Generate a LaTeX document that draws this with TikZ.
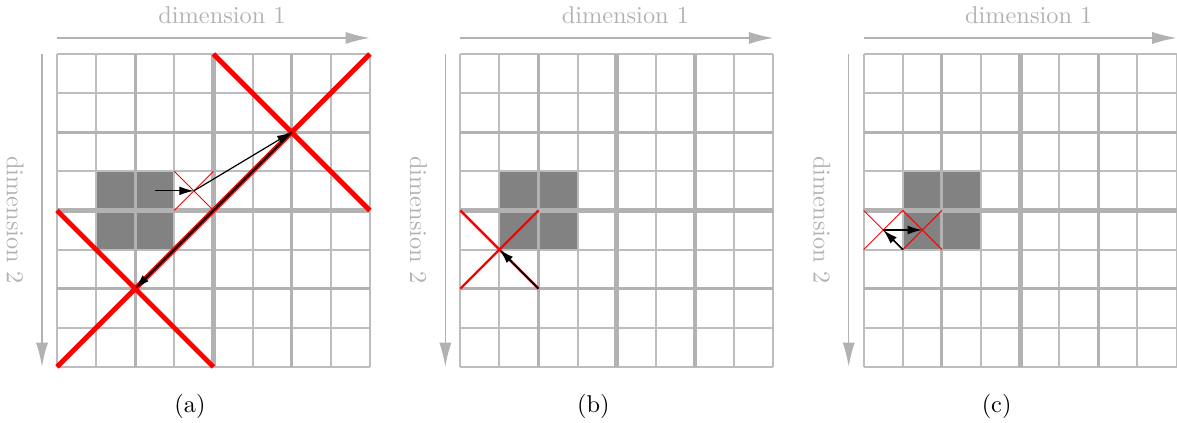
\documentclass[tikz,border=0pt]{standalone}
\usetikzlibrary{arrows.meta}
\tikzset{
  gridthin/.style={draw=black!26, line width=0.8pt},
  gridmid/.style={draw=black!30, line width=1.3pt},
  gridthick/.style={draw=black!30, line width=2.1pt},
  block/.style={fill=black!49},
  axis/.style={draw=black!30, line width=0.6pt, -{Latex[length=10pt,width=5pt]}},
  axislabel/.style={text=black!30, inner sep=0pt},
  sublabel/.style={inner sep=0pt},
  bigx/.style={draw=red, line width=2pt},
  midx/.style={draw=red, line width=1pt},
  thinx/.style={draw=red, line width=0.4pt},
  jump/.style={draw=black, line width=0.5pt, -{Latex[length=6pt,width=3.6pt]}},
}
\newcommand\paneldraw[2]{%
  \fill[block] (1,3) rectangle (3,5);
  \foreach \i in {0,1,3,5,7,8} {\draw[gridthin] (\i,0) -- (\i,8); \draw[gridthin] (0,\i) -- (8,\i);}
  \foreach \i in {2,6} {\draw[gridmid] (\i,0) -- (\i,8); \draw[gridmid] (0,\i) -- (8,\i);}
  \draw[gridthick] (4,0) -- (4,8);
  \draw[gridthick] (0,4) -- (8,4);
  \coordinate (#1-d1s) at (0,-0.41);
  \coordinate (#1-d1e) at (8,-0.41);
  \coordinate (#1-d2s) at (-0.383,0);
  \coordinate (#1-d2e) at (-0.383,8);
  \draw[axis] (#1-d1s) -- (#1-d1e);
  \draw[axis] (#1-d2s) -- (#1-d2e);
  \node[axislabel] (#1-t1) at (4.22,-1.0) {dimension 1};
  \node[axislabel, rotate=-90] (#1-t2) at (-1.07,4.24) {dimension 2};
  \node[sublabel] (#1-lab) at (3.4,9.0) {(#2)};
}
\begin{document}
\begin{tikzpicture}[x=0.014444cm, y=-0.014444cm]
  \useasboundingbox (0,0) rectangle (1177,423);
  % panel (a)
  \begin{scope}[shift={(0.8233cm,-0.78cm)}, x=0.56513cm, y=-0.56513cm]
    \paneldraw{a}{a}
    \coordinate (a-s) at (2.5,3.5);
    \coordinate (a-c) at (3.5,3.5);
    \coordinate (a-p) at (6,2);
    \coordinate (a-q) at (2,6);
    \draw[thinx] (3,3) -- (4,4) (3,4) -- (4,3);
    \draw[bigx] (4,0) -- (8,4) (4,4) -- (8,0);
    \draw[bigx] (0,4) -- (4,8) (0,8) -- (4,4);
    \draw[jump] (a-s) -- (a-c);
    \draw[jump] (a-c) -- (a-p);
    \draw[jump, line width=0.7pt] (a-p) -- (a-q);
  \end{scope}
  % panel (b)
  \begin{scope}[shift={(6.6516cm,-0.78cm)}, x=0.56513cm, y=-0.56513cm]
    \paneldraw{b}{b}
    \coordinate (b-s) at (2,6);
    \coordinate (b-c) at (1,5);
    \draw[midx] (0,4) -- (2,6) (0,6) -- (2,4);
    \draw[jump, line width=0.7pt] (b-s) -- (b-c);
  \end{scope}
  % panel (c)
  \begin{scope}[shift={(12.4798cm,-0.78cm)}, x=0.56513cm, y=-0.56513cm]
    \paneldraw{c}{c}
    \coordinate (c-s) at (1,5);
    \coordinate (c-c) at (0.5,4.5);
    \coordinate (c-e) at (1.5,4.5);
    \draw[thinx] (0,4) -- (1,5) (0,5) -- (1,4) (1,4) -- (2,5) (1,5) -- (2,4);
    \draw[jump, line width=0.7pt] (c-s) -- (c-c);
    \draw[jump, line width=0.7pt] (c-c) -- (c-e);
  \end{scope}
\end{tikzpicture}
\end{document}
